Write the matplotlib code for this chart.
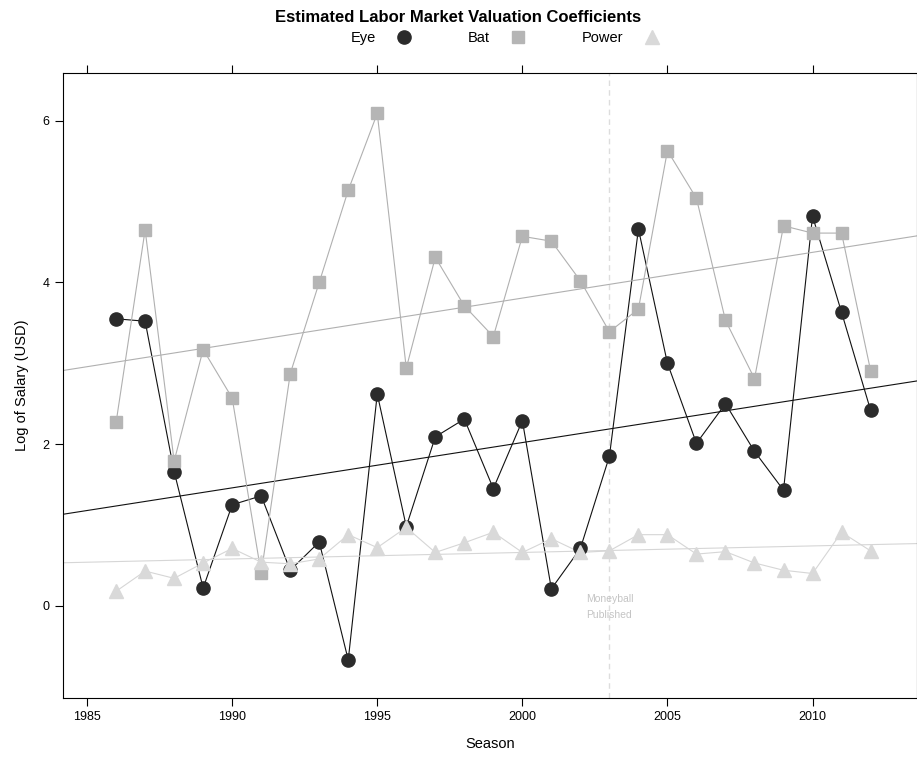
import matplotlib
matplotlib.use("Agg")
import matplotlib.pyplot as plt
import numpy as np

plt.rcParams['font.family'] = ['Liberation Sans', 'DejaVu Sans']

seasons = list(range(1986, 2013))

eye = [3.55, 3.52, 1.66, 0.22, 1.25, 1.36, 0.44, 0.79, -0.67, 2.62,
       0.98, 2.09, 2.31, 1.45, 2.29, 0.21, 0.71, 1.85, 4.66, 3.00,
       2.01, 2.50, 1.91, 1.43, 4.82, 3.63, 2.42]
bat = [2.27, 4.65, 1.79, 3.17, 2.57, 0.40, 2.87, 4.00, 5.14, 6.09,
       2.94, 4.31, 3.71, 3.33, 4.57, 4.51, 4.02, 3.39, 3.67, 5.63,
       5.04, 3.53, 2.81, 4.70, 4.61, 4.61, 2.91]
power = [0.18, 0.43, 0.34, 0.53, 0.71, 0.54, 0.52, 0.58, 0.88, 0.72,
         0.97, 0.66, 0.78, 0.91, 0.66, 0.83, 0.66, 0.68, 0.88, 0.88,
         0.64, 0.67, 0.53, 0.44, 0.40, 0.91, 0.68]

moneyball_year = 2003

series = [
    ("Eye", eye, "o", "#2b2b2b", "#111111", 9.5),
    ("Bat", bat, "s", "#b5b5b5", "#b0b0b0", 8.5),
    ("Power", power, "^", "#d9d9d9", "#d6d6d6", 10),
]

fig = plt.figure(figsize=(9.17, 7.58), dpi=100)
ax = fig.add_axes([63 / 917, 1 - 698 / 758, 854 / 917, 625 / 758])

x = np.array(seasons)
xlim = (1984.17, 2013.6)
ax.axvline(moneyball_year, color="#dddddd", lw=1, ls=(0, (4, 3)), zorder=1)
ax.text(moneyball_year, 0.09, "Moneyball", ha="center", va="center",
        fontsize=7.5, color="#c4c4c4")
ax.text(moneyball_year, -0.11, "Published", ha="center", va="center",
        fontsize=7.5, color="#c4c4c4")

handles = []
for name, vals, mk, col, lcol, ms in series:
    y = np.array(vals)
    # least-squares trend line across the whole panel
    slope, icpt = np.polyfit(x, y, 1)
    xx = np.array(xlim)
    ax.plot(xx, icpt + slope * xx, color=lcol, lw=0.8, zorder=2)
    ax.plot(x, y, color=lcol, lw=0.8, zorder=2)
    h, = ax.plot(x, y, ls="none", marker=mk, ms=ms, color=col, mec=col,
                 zorder=3, label=name)
    handles.append(h)

ax.set_xlim(*xlim)
ax.set_ylim(-1.14, 6.59)
ax.set_xticks([1985, 1990, 1995, 2000, 2005, 2010])
ax.set_yticks([0, 2, 4, 6])
ax.tick_params(direction="out", length=6, width=0.8, labelsize=9,
               top=True, right=True, labeltop=False, labelright=False)
for s in ax.spines.values():
    s.set_linewidth(0.8)

ax.set_xlabel("Season", fontsize=10.5, labelpad=10)
ax.set_ylabel("Log of Salary (USD)", fontsize=10.5, labelpad=10)

fig.text(0.5, 1 - 17 / 758, "Estimated Labor Market Valuation Coefficients",
         ha="center", va="center", fontsize=12, fontweight="bold")
fig.legend(handles=handles, loc="center",
           bbox_to_anchor=(0.5 + 48 / 917, 1 - 38 / 758),
           ncol=3, frameon=False, markerfirst=False, fontsize=10.5,
           handlelength=1.5, columnspacing=3.6, handletextpad=1.2)

fig.savefig("out.png", dpi=100)
